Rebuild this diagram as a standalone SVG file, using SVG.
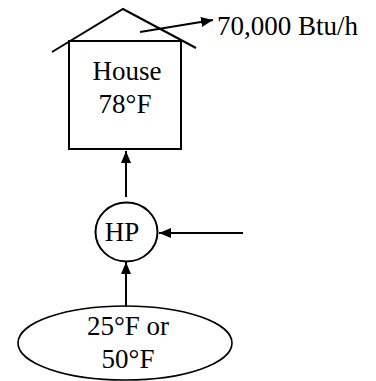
<svg xmlns="http://www.w3.org/2000/svg" width="376" height="381" viewBox="0 0 376 381">
<style>
.s{fill:none;stroke:#000;stroke-width:2}
.t{font-family:"Liberation Serif","Times New Roman",serif;font-size:27px;fill:#000}
</style>
<defs>
<marker id="ah" markerWidth="12" markerHeight="10" refX="12" refY="5" orient="auto" markerUnits="userSpaceOnUse">
<path d="M0,0 L12,5 L0,10 Z" fill="#000"/>
</marker>
</defs>
<rect width="376" height="381" fill="#fff"/>
<g id="house">
<rect class="s" x="69" y="41" width="112" height="108"/>
<polyline class="s" points="52,52 123,9 196,48"/>
<text class="t" x="127" y="80" text-anchor="middle">House</text>
<text class="t" x="125" y="113" text-anchor="middle">78°F</text>
</g>
<g id="hp">
<ellipse class="s" cx="126.5" cy="232" rx="31" ry="29.5"/>
<text class="t" x="122" y="241" text-anchor="middle">HP</text>
</g>
<g id="source">
<ellipse cx="125" cy="343" rx="107" ry="37" fill="none" stroke="#000" stroke-width="1.6"/>
<text class="t" x="128" y="335" text-anchor="middle">25°F or</text>
<text class="t" x="128" y="368" text-anchor="middle">50°F</text>
</g>
<g id="loss-label">
<text class="t" x="217" y="35">70,000 Btu/h</text>
</g>
<g id="connectors">
<line class="s" x1="126" y1="197" x2="126" y2="151" marker-end="url(#ah)"/>
<line class="s" x1="126" y1="307" x2="126" y2="262" marker-end="url(#ah)"/>
<line class="s" x1="243" y1="233" x2="159" y2="233" marker-end="url(#ah)"/>
<line class="s" x1="140" y1="32" x2="213" y2="20" marker-end="url(#ah)"/>
</g>
</svg>
